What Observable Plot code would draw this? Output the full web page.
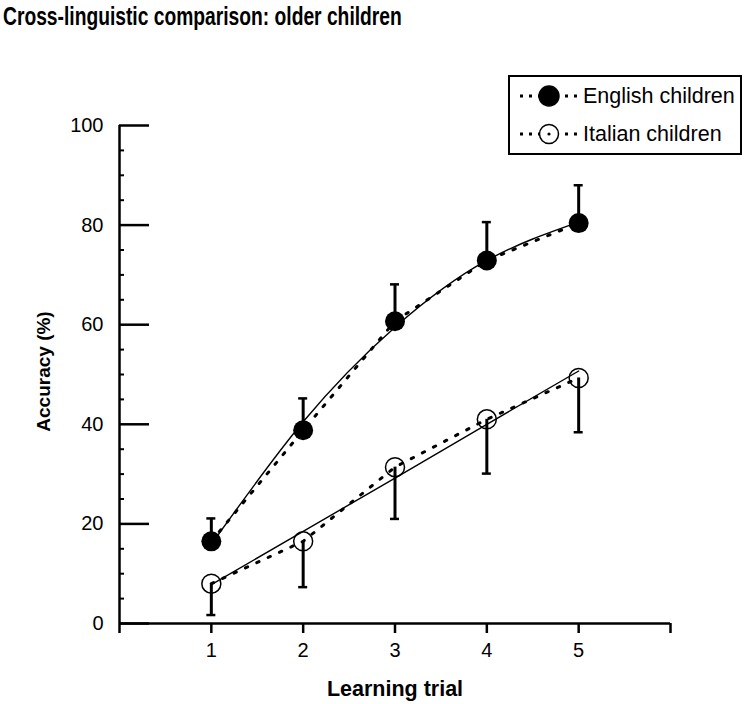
<!DOCTYPE html>
<html>
<head>
<meta charset="utf-8">
<script src="https://cdn.jsdelivr.net/npm/d3@7"></script>
<script src="https://cdn.jsdelivr.net/npm/@observablehq/plot@0.6"></script>
<style>
  html, body { margin: 0; padding: 0; background: #fff; }
  #wrap { position: relative; width: 750px; height: 704px; font-family: "Liberation Sans", Arial, Helvetica, sans-serif; }
  #title { position: absolute; left: 3px; top: 4px; font-size: 26px; line-height: 24px; font-weight: bold; transform: scaleX(0.74); transform-origin: 0 0; white-space: nowrap; }
  #chart { position: absolute; left: 0; top: 34px; }
  #legend { position: absolute; left: 508px; top: 75px; width: 230px; height: 76px; border: 2px solid #000; background: #fff; }
  .row { position: absolute; left: 0; height: 38px; width: 230px; }
  .row svg { position: absolute; left: 9px; top: 7px; }
  .row span { position: absolute; left: 73px; top: 0; line-height: 38px; font-size: 21.5px; white-space: nowrap; }
</style>
</head>
<body>
<div id="wrap">
  <div id="title">Cross-linguistic comparison: older children</div>
  <div id="chart"></div>
  <div id="legend"></div>
</div>
<script>
// ---- data ----
const trials = [1, 2, 3, 4, 5];
const englishMean  = [16.5, 38.8, 60.7, 72.9, 80.4];
const englishUpper = [21.1, 45.2, 68.1, 80.6, 88.0];
const englishFit   = [15.9, 40.5, 59.5, 72.9, 80.6];
const italianMean  = [8.0, 16.5, 31.4, 41.0, 49.3];
const italianLower = [1.7, 7.3, 21.0, 30.1, 38.4];
const italianFit   = [7.8, 18.5, 29.2, 40.0, 50.7];
const seriesNames  = ["English children", "Italian children"];
const yMajorTicks  = [0, 20, 40, 60, 80, 100];
const yMinorTicks  = [5, 10, 15, 25, 30, 35, 45, 50, 55, 65, 70, 75, 85, 90, 95];
const xTicks       = [0, 1, 2, 3, 4, 5, 6];
const xTickLabels  = ["", "1", "2", "3", "4", "5", ""];
const xTitle = "Learning trial";
const yTitle = "Accuracy (%)";

const english = trials.map((t, i) => ({trial: t, mean: englishMean[i], upper: englishUpper[i], fit: englishFit[i]}));
const italian = trials.map((t, i) => ({trial: t, mean: italianMean[i], lower: italianLower[i], fit: italianFit[i]}));

const W = 750, H = 670, mL = 119, mR = 80, mT = 91, mB = 81;
const frameW = W - mL - mR;

const chart = Plot.plot({
  width: W, height: H,
  marginLeft: mL, marginRight: mR, marginTop: mT, marginBottom: mB,
  x: {domain: [0, 6]},
  y: {domain: [0, 100]},
  style: {fontFamily: "'Liberation Sans', Arial, Helvetica, sans-serif", color: "#000", background: "#fff", overflow: "visible"},
  marks: [
    Plot.axisY({ticks: yMajorTicks, tickSize: 0, tickPadding: 16, fontSize: 20, label: null}),
    Plot.tickY(yMinorTicks, {y: d => d, insetRight: frameW - 5, strokeWidth: 2, stroke: "#000"}),
    Plot.tickY(yMajorTicks, {y: d => d, insetRight: frameW - 30, strokeWidth: 2.5, stroke: "#000"}),
    Plot.axisX({ticks: xTicks, tickSize: 10, tickPadding: 9, fontSize: 20, strokeWidth: 2.5, label: null,
      tickFormat: (d) => xTickLabels[xTicks.indexOf(d)]}),
    Plot.ruleX([0], {strokeWidth: 2.5}),
    Plot.ruleY([0], {strokeWidth: 2.5}),
    // error bars
    Plot.ruleX(english, {x: "trial", y1: "mean", y2: "upper", strokeWidth: 3}),
    Plot.ruleY(english, {x1: "trial", x2: "trial", y: "upper", insetLeft: -4.5, insetRight: -4.5, strokeWidth: 2.5}),
    Plot.ruleX(italian, {x: "trial", y1: "mean", y2: "lower", strokeWidth: 3}),
    Plot.ruleY(italian, {x1: "trial", x2: "trial", y: "lower", insetLeft: -4.5, insetRight: -4.5, strokeWidth: 2.5}),
    // fitted curves
    Plot.line(english, {x: "trial", y: "fit", curve: "natural", strokeWidth: 1.4}),
    Plot.line(italian, {x: "trial", y: "fit", strokeWidth: 1.4}),
    // dotted connectors
    Plot.line(english, {x: "trial", y: "mean", strokeWidth: 3, strokeDasharray: "2.5,10"}),
    Plot.line(italian, {x: "trial", y: "mean", strokeWidth: 3, strokeDasharray: "2.5,10"}),
    // points
    Plot.dot(english, {x: "trial", y: "mean", r: 10, fill: "#000", stroke: "none"}),
    Plot.dot(italian, {x: "trial", y: "mean", r: 9.5, fill: "none", stroke: "#000", strokeWidth: 1.5}),
    // axis titles
    Plot.text([yTitle], {frameAnchor: "left", rotate: -90, textAnchor: "middle", lineAnchor: "middle", dx: -76, dy: -3, fontWeight: "bold", fontSize: 19}),
    Plot.text([xTitle], {frameAnchor: "bottom", dy: 66, fontWeight: "bold", fontSize: 21.5, lineAnchor: "middle"})
  ]
});
document.getElementById("chart").appendChild(chart);

// legend
const legend = document.getElementById("legend");
seriesNames.forEach((name, i) => {
  const row = document.createElement("div");
  row.className = "row";
  row.style.top = (i * 38) + "px";
  const filled = i === 0;
  row.innerHTML = `<svg width="62" height="24" viewBox="0 0 62 24">
      <line x1="1" y1="12" x2="60" y2="12" stroke="#000" stroke-width="3" stroke-dasharray="3,6"/>
      <circle cx="30" cy="12" r="${filled ? 10 : 9.5}" fill="${filled ? '#000' : '#fff'}" stroke="#000" stroke-width="1.5"/>
      ${filled ? '' : '<circle cx="30" cy="12" r="1.6" fill="#000"/>'}
    </svg><span>${name}</span>`;
  legend.appendChild(row);
});
</script>
</body>
</html>
